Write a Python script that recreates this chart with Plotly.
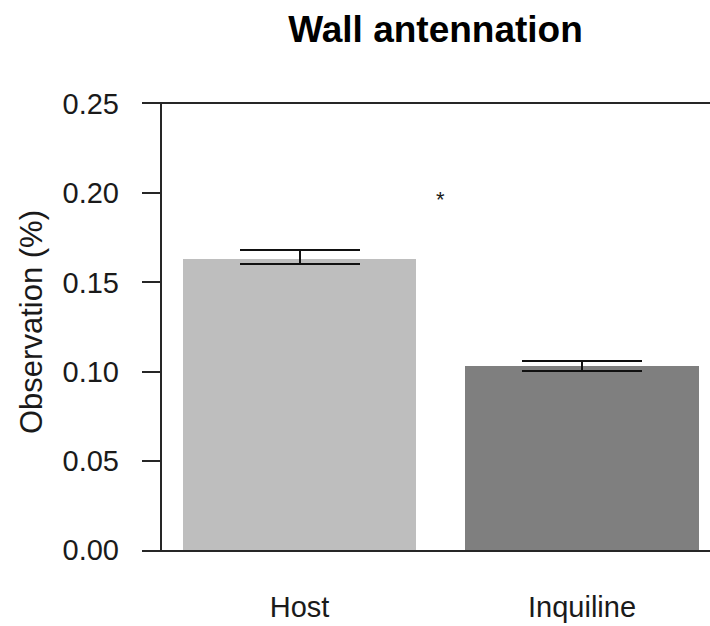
import plotly.graph_objects as go

categories = ["Host", "Inquiline"]
means = [0.1631, 0.1031]
upper = [0.1680, 0.1058]
lower = [0.1603, 0.1002]
bar_colors = ["#BEBEBE", "#7F7F7F"]
y_ticks = [0.00, 0.05, 0.10, 0.15, 0.20, 0.25]
y_ticktext = ["0.00", "0.05", "0.10", "0.15", "0.20", "0.25"]
star_x = 0.5
star_y = 0.198

W, H = 710, 626
L, R, T, B = 142, 0, 104, 76
pw = W - L - R
ph = H - T - B
xs = list(range(len(categories)))
x_range = [-0.5575, 1.453]

err_plus = [u - m for u, m in zip(upper, means)]
err_minus = [m - l for m, l in zip(means, lower)]

FONT = "Arial, 'Liberation Sans', sans-serif"
LINE = "#262626"

fig = go.Figure()
fig.add_trace(go.Bar(
    x=xs, y=means, width=0.825,
    marker=dict(color=bar_colors, line=dict(width=0)),
    error_y=dict(type="data", symmetric=False, array=err_plus, arrayminus=err_minus,
                 color="#111111", thickness=2, width=60),
    showlegend=False,
))

fig.update_layout(
    width=W, height=H,
    margin=dict(l=L, r=R, t=T, b=B, pad=0, autoexpand=False),
    paper_bgcolor="white", plot_bgcolor="white",
    font=dict(family=FONT, size=29, color="#1a1a1a"),
    title=dict(text="<b>Wall antennation</b>", font=dict(size=37, color="#000000"),
               x=435.5 / W, xanchor="center", xref="container",
               y=1 - 29 / H, yanchor="middle", yref="container"),
    bargap=0,
)
fig.update_xaxes(
    range=x_range, tickvals=xs, ticktext=categories,
    showgrid=False, zeroline=False, automargin=False,
    showline=True, mirror=True, linewidth=2, linecolor=LINE,
    ticks="", ticklabelstandoff=30,
    tickfont=dict(size=29, color="#1a1a1a"),
)
fig.update_yaxes(
    range=[0, 0.25], tickvals=y_ticks, ticktext=y_ticktext,
    showgrid=False, zeroline=False, showline=False, automargin=False,
    ticks="inside", ticklen=19, tickwidth=2, tickcolor=LINE,
    ticklabelstandoff=22,
    tickfont=dict(size=29, color="#1a1a1a"),
)
fig.add_shape(type="line", xref="paper", yref="y",
              x0=19 / pw, x1=19 / pw, y0=0, y1=0.25,
              line=dict(color=LINE, width=2))
fig.add_annotation(text="Observation (%)", textangle=-90,
                   xref="paper", yref="paper",
                   x=(31 - L) / pw, y=(H - B - 322) / ph,
                   xanchor="center", yanchor="middle", showarrow=False,
                   font=dict(size=31, color="#1a1a1a"))
fig.add_annotation(text="*", xref="x", yref="y", x=star_x, y=star_y,
                   xanchor="center", yanchor="middle", showarrow=False,
                   yshift=-3,
                   font=dict(size=22, color="#1a1a1a"))

fig.write_html("out.html")
